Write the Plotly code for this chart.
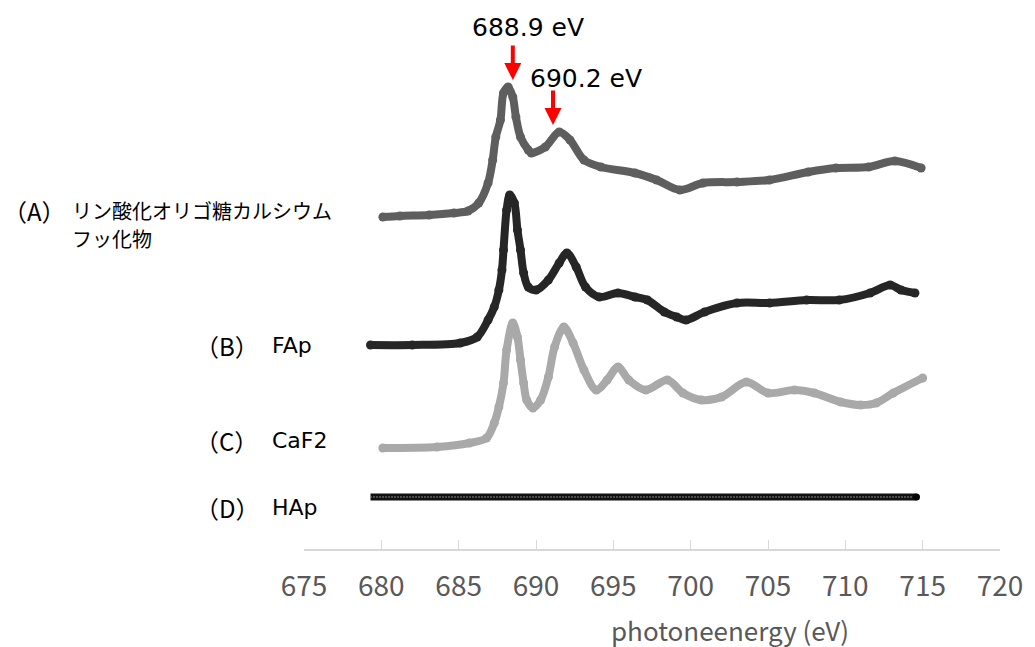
import plotly.graph_objects as go

# ---------------- data (photon energy in eV, normalized intensity) ----------------
A_x = [680.1, 681.2, 683.1, 684.7, 685.6, 686.3, 686.9, 687.2, 687.4, 687.7, 687.9, 688.2,
       688.5, 688.7, 689.0, 689.5, 689.7, 690.6, 691.5, 692.2, 693.1, 694.2, 696.4, 697.8,
       699.3, 700.8, 703.0, 705.1, 707.6, 709.4, 711.5, 713.2, 714.9]
A_y = [0.00, 0.01, 0.02, 0.04, 0.06, 0.14, 0.34, 0.57, 0.80, 0.97, 1.24, 1.30,
       1.20, 1.00, 0.80, 0.67, 0.64, 0.70, 0.85, 0.77, 0.57, 0.50, 0.44, 0.37,
       0.27, 0.34, 0.35, 0.37, 0.45, 0.49, 0.50, 0.56, 0.49]

B_x = [679.3, 682.0, 685.1, 686.2, 686.9, 687.3, 687.6, 687.8, 687.9, 688.1, 688.3, 688.6,
       688.8, 689.0, 689.2, 689.5, 690.0, 690.8, 691.5, 692.0, 692.6, 693.2, 694.1, 695.3,
       696.4, 697.2, 698.3, 699.1, 699.7, 700.9, 703.0, 705.1, 707.5, 709.6, 711.6, 712.9,
       713.6, 714.5]
B_y = [0.00, 0.00, 0.02, 0.08, 0.25, 0.38, 0.55, 0.75, 0.95, 1.35, 1.50, 1.42,
       1.15, 0.95, 0.72, 0.58, 0.55, 0.65, 0.82, 0.92, 0.78, 0.58, 0.48, 0.52,
       0.48, 0.45, 0.33, 0.28, 0.25, 0.33, 0.42, 0.42, 0.45, 0.45, 0.52, 0.60,
       0.55, 0.52]

C_x = [680.1, 683.6, 685.7, 686.8, 687.3, 687.6, 687.9, 688.1, 688.5, 688.8, 689.0, 689.2,
       689.4, 689.8, 690.3, 690.8, 691.2, 691.8, 692.4, 693.1, 693.9, 694.6, 695.3, 696.0,
       697.1, 698.5, 699.5, 700.7, 702.0, 703.6, 705.0, 706.7, 708.0, 709.7, 711.0, 712.0,
       713.1, 715.0]
C_y = [0.00, 0.01, 0.05, 0.10, 0.25, 0.41, 0.65, 0.98, 1.25, 1.11, 0.88, 0.65,
       0.48, 0.40, 0.48, 0.71, 1.01, 1.21, 1.05, 0.78, 0.58, 0.68, 0.81, 0.68,
       0.58, 0.68, 0.55, 0.48, 0.51, 0.66, 0.55, 0.58, 0.55, 0.46, 0.43, 0.45,
       0.55, 0.70]

D_x = [679.3, 714.6]
D_y = [0.00, 0.00]

offsets = {"A": 3.32, "B": 2.04, "C": 1.01, "D": 0.52}

tick_vals = [675, 680, 685, 690, 695, 700, 705, 710, 715, 720]
tick_text = ["675", "680", "685", "690", "695", "700", "705", "710", "715", "720"]

label_prefix = ["（A）", "（B）", "（C）", "（D）"]
label_names = ["リン酸化オリゴ糖カルシウム", "FAp", "CaF2", "HAp"]
label_A_line2 = "フッ化物"
peak_labels = ["688.9 eV", "690.2 eV"]
peak_pos = [688.5, 691.1]

x_title = "photoneenergy (eV)"

# ---------------- figure ----------------
fig = go.Figure()

def spectrum(xs, ys, off, color):
    return go.Scatter(
        x=xs, y=[v + off for v in ys], mode="lines+markers",
        line=dict(color=color, width=8, shape="spline", smoothing=0.9),
        marker=dict(color=color, size=9),
        showlegend=False, hoverinfo="skip",
    )

fig.add_trace(spectrum(A_x, A_y, offsets["A"], "#5e5e5e"))
fig.add_trace(spectrum(B_x, B_y, offsets["B"], "#262626"))
fig.add_trace(spectrum(C_x, C_y, offsets["C"], "#a9a9a9"))

# D: dense chain of small rings -> dark band with light dotted texture
fig.add_trace(go.Scatter(
    x=D_x, y=[v + offsets["D"] for v in D_y], mode="lines",
    line=dict(color="#111111", width=7), showlegend=False, hoverinfo="skip"))
fig.add_trace(go.Scatter(
    x=D_x, y=[v + offsets["D"] for v in D_y], mode="lines",
    line=dict(color="#8a8a8a", width=2, dash="1px,2px"), showlegend=False, hoverinfo="skip"))
fig.add_trace(go.Scatter(
    x=[D_x[-1]], y=[D_y[-1] + offsets["D"]], mode="markers",
    marker=dict(color="#000000", size=7), showlegend=False, hoverinfo="skip"))

L, R, T, B = 304, 29, 20, 98
W, H = 1035, 647
PW, PH = W - L - R, H - T - B

def px(xp):
    return (xp - L) / PW

def py(yp):
    return (H - B - yp) / PH

label_font = "DejaVu Sans, Noto Sans CJK JP, sans-serif"
jp_font = "Noto Sans CJK JP, sans-serif"

annotations = []
# left labels
prefix_pos = [(-2, 210), (192, 345), (192, 440), (192, 507)]
name_pos = [(68, 210), (270, 345), (270, 440), (270, 507)]
for i in range(4):
    annotations.append(dict(
        text=label_prefix[i], xref="paper", yref="paper",
        x=px(prefix_pos[i][0]), y=py(prefix_pos[i][1]),
        xanchor="left", yanchor="middle", showarrow=False,
        font=dict(family=jp_font, size=24, color="#000000")))
    annotations.append(dict(
        text=label_names[i], xref="paper", yref="paper",
        x=px(name_pos[i][0]), y=py(name_pos[i][1]),
        xanchor="left", yanchor="middle", showarrow=False, align="left",
        font=dict(family=(jp_font if i == 0 else label_font),
                  size=(20 if i == 0 else 22), color="#000000")))
annotations.append(dict(
    text=label_A_line2, xref="paper", yref="paper", x=px(68), y=py(239),
    xanchor="left", yanchor="middle", showarrow=False,
    font=dict(family=jp_font, size=20, color="#000000")))

# red arrows
arrow_tips_y = [80, 125]
for i in range(2):
    annotations.append(dict(
        x=peak_pos[i], y=py(arrow_tips_y[i]), xref="x", yref="paper",
        text="", showarrow=True, ax=0, ay=-36,
        arrowhead=2, arrowsize=0.85, arrowwidth=4, arrowcolor="#ff0000", standoff=0))

# peak text
peak_text_pos = [(530, 27), (588, 78)]
for i in range(2):
    annotations.append(dict(
        text=peak_labels[i], xref="paper", yref="paper",
        x=px(peak_text_pos[i][0]), y=py(peak_text_pos[i][1]),
        xanchor="center", yanchor="middle", showarrow=False,
        font=dict(family=label_font, size=25, color="#000000")))

# axis title
annotations.append(dict(
    text=x_title, xref="paper", yref="paper", x=px(734), y=py(629),
    xanchor="center", yanchor="middle", showarrow=False,
    font=dict(family=jp_font, size=26, color="#595959")))

fig.update_layout(
    width=W, height=H,
    margin=dict(l=L, r=R, t=T, b=B),
    paper_bgcolor="white", plot_bgcolor="white",
    annotations=annotations,
    xaxis=dict(
        range=[675, 720], tickmode="array", tickvals=tick_vals, ticktext=tick_text,
        ticks="inside", ticklen=9, tickwidth=1, tickcolor="#d9d9d9",
        showline=True, linecolor="#d9d9d9", linewidth=1.5,
        showgrid=False, zeroline=False,
        tickfont=dict(family=jp_font, size=28, color="#595959"),
        ticklabelstandoff=12,
    ),
    yaxis=dict(range=[0, PH / 100], visible=False, showgrid=False, zeroline=False),
)

fig.write_html("out.html")
